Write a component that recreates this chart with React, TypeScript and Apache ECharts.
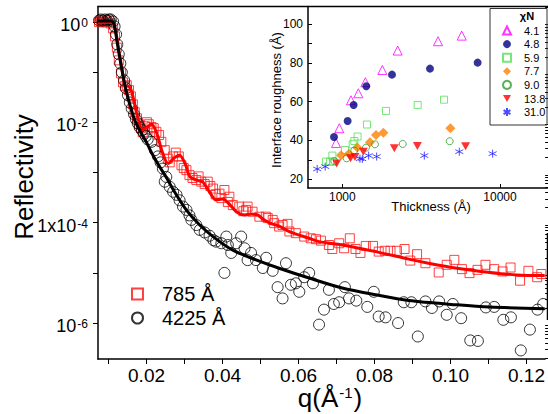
import React, { useEffect, useRef } from 'react';
import * as echarts from 'echarts';

const FONT = '"Liberation Sans", Arial, Helvetica, sans-serif';

// ---------- main chart: reflectivity vs q ----------
const qLabelTicks = [0.02, 0.04, 0.06, 0.08, 0.1, 0.12];
const qTicks = [0.01, 0.02, 0.03, 0.04, 0.05, 0.06, 0.07, 0.08, 0.09, 0.1, 0.11, 0.12];
const rLabelTicks = [1, 1e-2, 1e-4, 1e-6];
const rDecadeTicks = [1, 1e-1, 1e-2, 1e-3, 1e-4, 1e-5, 1e-6, 1e-7];
const rMinorMantissas = [2, 3, 4, 5, 6, 7, 8, 9];
const mainSeriesNames = ['785 Å', '4225 Å'];

const data785: [number, number][] = [
  [0.0075, 1.0], [0.008, 1.08], [0.0085, 0.99], [0.0091, 1.08], [0.0096, 0.99], [0.0101, 1.08],
  [0.0106, 0.94], [0.0112, 0.75], [0.0117, 0.52], [0.0122, 0.31], [0.0127, 0.173], [0.0133, 0.095],
  [0.0138, 0.063], [0.0143, 0.053], [0.0148, 0.055], [0.0154, 0.044], [0.0159, 0.033], [0.0164, 0.023],
  [0.0169, 0.016], [0.0175, 0.0121], [0.018, 0.0092], [0.0185, 0.0077], [0.019, 0.0064], [0.0196, 0.0084],
  [0.0201, 0.0101], [0.0206, 0.0092], [0.0213, 0.0081], [0.0219, 0.0077], [0.0226, 0.0065], [0.0233, 0.0056],
  [0.0239, 0.0041], [0.0248, 0.0028], [0.0256, 0.0019], [0.0261, 0.0016], [0.027, 0.0021], [0.0277, 0.0025],
  [0.0285, 0.0021], [0.0292, 0.0014], [0.0298, 0.00123], [0.0305, 0.00112], [0.0313, 8.9e-4], [0.0321, 7.8e-4],
  [0.0331, 7.1e-4], [0.0337, 8.4e-4], [0.0344, 6.6e-4], [0.0353, 5.9e-4], [0.0361, 6.6e-4], [0.0368, 5.4e-4],
  [0.0375, 4.8e-4], [0.0382, 3.7e-4], [0.0392, 3.8e-4], [0.0397, 3.1e-4], [0.0405, 4.5e-4], [0.0414, 2.6e-4],
  [0.0418, 3.3e-4], [0.0427, 2.25e-4], [0.0444, 2.1e-4], [0.0455, 1.7e-4], [0.0462, 1.8e-4], [0.0466, 2.1e-4],
  [0.0479, 1.66e-4], [0.0497, 1.32e-4], [0.0514, 1.32e-4], [0.0519, 1.24e-4], [0.0532, 1.14e-4], [0.0536, 9.8e-5],
  [0.0549, 8.4e-5], [0.0558, 9.0e-5], [0.0571, 9.5e-5], [0.0576, 6.7e-5], [0.0593, 6.2e-5], [0.0615, 5.3e-5],
  [0.0632, 4.9e-5], [0.0646, 4.7e-5], [0.0659, 4.4e-5], [0.068, 3.6e-5], [0.0689, 3.0e-5], [0.0707, 3.9e-5],
  [0.072, 3.1e-5], [0.0735, 4.9e-5], [0.075, 3.0e-5], [0.0763, 2.5e-5], [0.0777, 3.45e-5], [0.0796, 3.45e-5],
  [0.0811, 2.66e-5], [0.0827, 2.76e-5], [0.0842, 2.76e-5], [0.0859, 2.76e-5], [0.0879, 3.0e-5], [0.0894, 1.76e-5],
  [0.0912, 2.36e-5], [0.0934, 1.56e-5], [0.0969, 1.02e-5], [0.099, 1.45e-5], [0.101, 1.82e-5], [0.103, 1.19e-5],
  [0.105, 9.9e-6], [0.1071, 1.15e-5], [0.1092, 1.45e-5], [0.1115, 1.19e-5], [0.1137, 1.07e-5], [0.1158, 1.28e-5],
  [0.1183, 7.0e-6], [0.1205, 1.1e-5], [0.1228, 8.2e-6], [0.1239, 9.5e-6],
];

const data4225: [number, number][] = [
  [0.0075, 1.08], [0.008, 1.13], [0.0085, 1.08], [0.0091, 1.13], [0.0096, 1.08], [0.0101, 1.13],
  [0.0106, 1.13], [0.0112, 1.03], [0.0116, 0.82], [0.012, 0.57], [0.0123, 0.36], [0.0127, 0.23],
  [0.0131, 0.15], [0.0135, 0.1], [0.0141, 0.069], [0.0146, 0.048], [0.0151, 0.035], [0.0156, 0.025],
  [0.0161, 0.019], [0.0167, 0.0146], [0.0172, 0.0116], [0.0177, 0.0096], [0.0182, 0.008], [0.0188, 0.007],
  [0.0193, 0.0061], [0.0198, 0.0053], [0.0203, 0.0046], [0.0213, 0.0041], [0.0222, 0.0028], [0.023, 0.0021],
  [0.0237, 0.0016], [0.0243, 0.0012], [0.0252, 8.2e-4], [0.0248, 6.6e-4], [0.0261, 5.2e-4], [0.027, 4.15e-4],
  [0.0279, 3.6e-4], [0.0287, 2.8e-4], [0.0296, 2.1e-4], [0.0305, 1.8e-4], [0.0313, 1.4e-4], [0.0318, 1.14e-4],
  [0.0331, 9.0e-5], [0.034, 7.2e-5], [0.0353, 6.4e-5], [0.0366, 5.5e-5], [0.0376, 4.5e-5], [0.0383, 4.2e-5],
  [0.0397, 3.9e-5], [0.0405, 1.0e-5], [0.041, 5.3e-5], [0.0414, 3.6e-5], [0.0423, 2.5e-5], [0.0436, 3.9e-5],
  [0.0449, 5.3e-5], [0.0458, 3.1e-5], [0.0466, 1.8e-5], [0.0475, 2.5e-5], [0.0488, 1.8e-5], [0.0506, 1.25e-5],
  [0.0515, 2.0e-5], [0.0532, 1.1e-5], [0.0545, 5.2e-6], [0.0558, 3.1e-6], [0.0567, 1.56e-5], [0.058, 5.8e-6],
  [0.0593, 6.2e-6], [0.0602, 4.2e-6], [0.0615, 8.2e-6], [0.0628, 1.0e-5], [0.0638, 6.2e-6], [0.0654, 9.3e-7],
  [0.0667, 1.85e-6], [0.068, 4.6e-6], [0.0693, 2.4e-6], [0.0707, 2.6e-6], [0.0722, 5.2e-6], [0.0733, 3.1e-6],
  [0.0752, 2.8e-6], [0.0781, 2.1e-6], [0.0798, 4.2e-6], [0.0811, 1.35e-6], [0.0829, 1.3e-6], [0.0862, 1.0e-6],
  [0.0877, 2.6e-6], [0.0897, 2.6e-6], [0.0914, 5.4e-7], [0.0934, 2.7e-6], [0.0951, 2.0e-6], [0.097, 2.7e-6],
  [0.099, 1.46e-6], [0.1006, 2.4e-6], [0.1028, 1.25e-6], [0.1052, 4.5e-7], [0.1072, 4.4e-7], [0.1093, 2.05e-6],
  [0.1115, 2.1e-6], [0.1139, 1.16e-6], [0.1159, 1.3e-6], [0.1185, 2.85e-7], [0.1209, 7.4e-7], [0.1229, 1.85e-6],
  [0.1244, 2.4e-6],
];

const fit785: [number, number][] = [
  [0.0072, 0.97], [0.0099, 1.0], [0.0109, 0.98], [0.0114, 0.9], [0.012, 0.6], [0.0128, 0.24],
  [0.0137, 0.097], [0.0144, 0.053], [0.015, 0.053], [0.0159, 0.045], [0.0168, 0.0245], [0.0176, 0.0133],
  [0.019, 0.0072], [0.0201, 0.008], [0.0213, 0.0092], [0.0227, 0.0061], [0.024, 0.0028], [0.0257, 0.00152],
  [0.0272, 0.00194], [0.0287, 0.00223], [0.0303, 0.00141], [0.0314, 0.00083], [0.0332, 0.00071], [0.0348, 0.00065],
  [0.0366, 0.00041], [0.0383, 0.000284], [0.04, 0.000297], [0.0418, 0.000236], [0.0437, 0.000164], [0.0458, 0.000143],
  [0.0476, 0.000149], [0.0492, 0.000143], [0.051, 0.000113], [0.0528, 9.6e-5], [0.0549, 8.6e-5], [0.0576, 6.65e-5],
  [0.0628, 4.9e-5], [0.0654, 4.2e-5], [0.0715, 3.6e-5], [0.0803, 2.66e-5], [0.089, 1.88e-5], [0.0942, 1.56e-5],
  [0.1017, 1.24e-5], [0.1104, 1.02e-5], [0.1174, 9.1e-6], [0.1248, 8.85e-6],
];

const fit4225: [number, number][] = [
  [0.0072, 1.05], [0.0106, 1.05], [0.0114, 0.94], [0.0122, 0.43], [0.013, 0.19], [0.0138, 0.087],
  [0.0146, 0.044], [0.0156, 0.023], [0.0169, 0.0111], [0.0185, 0.0064], [0.0201, 0.00387], [0.0214, 0.00244],
  [0.0235, 0.00129], [0.0253, 0.00078], [0.0274, 0.00041], [0.0305, 0.000179], [0.034, 9.0e-5], [0.0375, 5.3e-5],
  [0.0426, 2.87e-5], [0.0488, 1.82e-5], [0.0549, 1.24e-5], [0.0628, 7.9e-6], [0.0715, 5.0e-6], [0.0803, 3.66e-6],
  [0.089, 2.82e-6], [0.1017, 2.31e-6], [0.1104, 2.08e-6], [0.1248, 1.93e-6],
];

// ---------- inset: interface roughness vs thickness ----------
const thickLabelTicks = [1000, 10000];
const roughLabelTicks = [20, 40, 60, 80, 100];
const roughTicks = [20, 30, 40, 50, 60, 70, 80, 90, 100];
const chiNames = ['4.1', '4.8', '5.9', '7.7', '9.0', '13.8', '31.0'];

const chi41: [number, number][] = [
  [912, 38.7], [957, 46.3], [1135, 60.7], [1263, 64.3], [1400, 70.0], [1794, 76.3], [2244, 86.3], [4045, 91.1], [5714, 94.0],
];
const chi48: [number, number][] = [
  [886, 41.8], [1081, 50.0], [1180, 58.3], [1419, 67.9], [2065, 73.9], [3597, 77.0], [7211, 80.1],
];
const chi59: [number, number][] = [
  [787, 29.1], [836, 29.1], [865, 32.2], [877, 29.1], [1040, 35.1], [1164, 38.0], [1192, 39.7], [1250, 42.0],
  [1433, 48.2], [1892, 55.2], [3006, 58.3], [4416, 61.0],
];
const chi77: [number, number][] = [
  [981, 32.4], [1102, 33.2], [1245, 36.3], [1497, 39.1], [1635, 42.8], [1821, 43.9], [4845, 46.3],
];
const chi90: [number, number][] = [
  [890, 29.4], [1065, 30.8], [1191, 34.8], [1413, 36.3], [1611, 38.0], [2416, 38.2], [4796, 39.6],
];
const chi138: [number, number][] = [
  [921, 28.1], [1129, 30.8], [1203, 31.5], [1359, 34.2], [2138, 36.0], [2993, 37.2], [6050, 37.0],
];
const chi310: [number, number][] = [
  [693, 25.3], [779, 26.5], [1294, 30.6], [1339, 30.5], [1469, 32.2], [1651, 31.7], [3311, 32.2], [5518, 34.2], [8976, 33.2],
];

function buildOption() {
  const rMinorTicks: number[] = [];
  rDecadeTicks.forEach((d) => rMinorMantissas.forEach((m) => rMinorTicks.push(d * m)));

  const supRich = {
    b: { fontSize: 18, fontFamily: FONT, color: '#000', padding: [6, 0, 0, 0], verticalAlign: 'top' },
    s: { fontSize: 12, fontFamily: FONT, color: '#000', padding: [7, 0, 0, 1], verticalAlign: 'top' },
  };

  const hollow = (c: string, w = 1) => ({ color: 'rgba(0,0,0,0)', borderColor: c, borderWidth: w });

  const insetStyles: any[] = [
    { symbol: 'triangle', symbolSize: 9, itemStyle: hollow('#ff00ff') },
    { symbol: 'circle', symbolSize: 8, itemStyle: { color: '#000080' } },
    { symbol: 'rect', symbolSize: 7, itemStyle: hollow('#55e055') },
    { symbol: 'diamond', symbolSize: 10, itemStyle: { color: '#ff7f00' } },
    { symbol: 'circle', symbolSize: 7, itemStyle: hollow('#2e9e2e') },
    { symbol: 'path://M0,0L10,0L5,9Z', symbolSize: [9, 8], itemStyle: { color: '#ff0000' } },
    { symbol: 'path://M5,0L5,10M0.7,2.5L9.3,7.5M0.7,7.5L9.3,2.5', symbolSize: 8, itemStyle: { color: 'rgba(120,120,255,0.5)', borderColor: '#1f1fff', borderWidth: 1 } },
  ];
  const insetData = [chi41, chi48, chi59, chi77, chi90, chi138, chi310];

  return {
    animation: false,
    backgroundColor: '#fff',
    textStyle: { fontFamily: FONT },
    grid: [
      { left: 98, top: 6.5, right: 0.5, bottom: 55 },
      { left: 308, top: 6.5, right: 0.5, bottom: 226 },
    ],
    xAxis: [
      {
        type: 'value', gridIndex: 0, min: 0.00723, max: 0.1249,
        axisLine: { onZero: false, lineStyle: { color: '#000', width: 1.5 } },
        axisTick: { customValues: qTicks, length: 5, lineStyle: { color: '#000', width: 1 } },
        axisLabel: {
          customValues: qLabelTicks, margin: 7, color: '#000', fontSize: 19, fontFamily: FONT, lineHeight: 19,
          formatter: (v: number) => v.toFixed(2),
        },
        splitLine: { show: false },
      },
      {
        type: 'log', logBase: 10, gridIndex: 1, min: 606, max: 20000,
        axisLine: { onZero: false, lineStyle: { color: '#000', width: 1.5 } },
        axisTick: { customValues: thickLabelTicks, inside: true, length: 4, lineStyle: { color: '#000' } },
        axisLabel: {
          customValues: thickLabelTicks, margin: 3, color: '#000', fontSize: 12, fontFamily: FONT, lineHeight: 12,
          formatter: (v: number) => String(Math.round(v)),
        },
        splitLine: { show: false },
      },
    ],
    yAxis: [
      {
        type: 'log', logBase: 10, gridIndex: 0, min: 1.92e-7, max: 2.05,
        axisLine: { onZero: false, lineStyle: { color: '#000', width: 1.5 } },
        axisTick: { customValues: rDecadeTicks, length: 5, lineStyle: { color: '#000' } },
        axisLabel: {
          customValues: rLabelTicks, margin: 10, rich: supRich,
          formatter: (v: number) => {
            const e = Math.round(Math.log10(v));
            if (e === -4) return '{b|1x10}{s|-4}';
            return '{b|10}{s|' + e + '}';
          },
        },
        splitLine: { show: false },
      },
      {
        type: 'log', logBase: 10, gridIndex: 0, min: 1.92e-7, max: 2.05,
        axisLine: { show: false },
        axisTick: { customValues: rMinorTicks, length: 3, lineStyle: { color: '#000' } },
        axisLabel: { show: false },
        splitLine: { show: false },
      },
      {
        type: 'value', gridIndex: 1, min: 15.5, max: 109,
        axisLine: { onZero: false, lineStyle: { color: '#000', width: 1.5 } },
        axisTick: { customValues: roughTicks, inside: true, length: 4, lineStyle: { color: '#000' } },
        axisLabel: {
          customValues: roughLabelTicks, margin: 5, color: '#000', fontSize: 12, fontFamily: FONT,
        },
        splitLine: { show: false },
      },
    ],
    legend: [
      {
        data: mainSeriesNames, orient: 'vertical', left: 131, top: 284, padding: 0,
        itemWidth: 11, itemHeight: 11, itemGap: 4, selectedMode: false,
        textStyle: { fontSize: 20, color: '#000', fontFamily: FONT, padding: [0, 0, 0, 14] },
      },
      {
        data: chiNames, orient: 'vertical', left: 490, top: 8, padding: [17, 2, 2, 12],
        itemWidth: 8, itemHeight: 8, itemGap: 2.6, selectedMode: false,
        textStyle: { fontSize: 11, color: '#000', fontFamily: FONT, padding: [0, 0, 0, 8] },
      },
    ],
    graphic: [
      { type: 'line', z: 50, shape: { x1: 97.5, y1: 6.5, x2: 548, y2: 6.5 }, style: { stroke: '#000', lineWidth: 1.5 } },
      { type: 'line', z: 50, shape: { x1: 547.5, y1: 233, x2: 547.5, y2: 320 }, style: { stroke: '#000', lineWidth: 1.5 } },
      {
        type: 'text', x: 24, y: 177, rotation: Math.PI / 2, z: 50,
        style: { text: 'Reflectivity', fontSize: 26, fontFamily: FONT, fill: '#000', textAlign: 'center', textVerticalAlign: 'middle' },
      },
      {
        type: 'text', x: 330, y: 398, z: 50,
        style: {
          text: '{a|q(Å}{s|-1}{a|)}', textAlign: 'center', textVerticalAlign: 'middle', fill: '#000',
          rich: {
            a: { fontSize: 26, fontFamily: FONT, lineHeight: 26, fill: '#000', color: '#000' },
            s: { fontSize: 15, fontFamily: FONT, lineHeight: 15, fill: '#000', color: '#000', verticalAlign: 'top', padding: [0, 1, 0, 1] },
          },
        },
      },
      {
        type: 'text', x: 276, y: 100, rotation: Math.PI / 2, z: 50,
        style: { text: 'Interface roughness (Å)', fontSize: 13, fontFamily: FONT, fill: '#000', textAlign: 'center', textVerticalAlign: 'middle' },
      },
      {
        type: 'text', x: 431, y: 206, z: 50,
        style: { text: 'Thickness (Å)', fontSize: 13, fontFamily: FONT, fill: '#000', textAlign: 'center', textVerticalAlign: 'middle' },
      },
      {
        type: 'rect', z: 50, shape: { x: 490, y: 8.5, width: 57, height: 116.5 },
        style: { fill: 'none', stroke: '#333', lineWidth: 1 },
      },
      {
        type: 'text', x: 527, y: 16, z: 50,
        style: { text: 'χN', fontSize: 11, fontWeight: 'bold', fontFamily: FONT, fill: '#000', textAlign: 'center', textVerticalAlign: 'middle' },
      },
    ],
    series: [
      {
        name: mainSeriesNames[0], type: 'scatter', xAxisIndex: 0, yAxisIndex: 0, data: data785,
        symbol: 'rect', symbolSize: 9, z: 2,
        itemStyle: { color: 'rgba(0,0,0,0)', borderColor: '#ff2020', borderWidth: 1, opacity: 0.85 },
      },
      {
        name: mainSeriesNames[1], type: 'scatter', xAxisIndex: 0, yAxisIndex: 0, data: data4225,
        symbol: 'circle', symbolSize: 11, z: 2,
        itemStyle: { color: 'rgba(0,0,0,0)', borderColor: '#000', borderWidth: 1 },
      },
      {
        name: 'fit 785', type: 'line', xAxisIndex: 0, yAxisIndex: 0, data: fit785, smooth: 0.3,
        showSymbol: false, z: 3, lineStyle: { color: '#ff0000', width: 3 },
      },
      {
        name: 'fit 4225', type: 'line', xAxisIndex: 0, yAxisIndex: 0, data: fit4225, smooth: 0.3,
        showSymbol: false, z: 3, lineStyle: { color: '#000', width: 3 },
      },
      ...chiNames.map((n, i) => ({
        name: n, type: 'scatter', xAxisIndex: 1, yAxisIndex: 2, data: insetData[i], z: 4,
        ...insetStyles[i],
      })),
    ],
  };
}

export default function App() {
  const ref = useRef<HTMLDivElement>(null);
  useEffect(() => {
    if (!ref.current) return;
    const chart = echarts.init(ref.current, undefined, { renderer: 'svg' });
    chart.setOption(buildOption() as any);
    return () => chart.dispose();
  }, []);
  return <div ref={ref} style={{ position: 'fixed', left: 0, top: 0, width: 548, height: 414 }} />;
}
